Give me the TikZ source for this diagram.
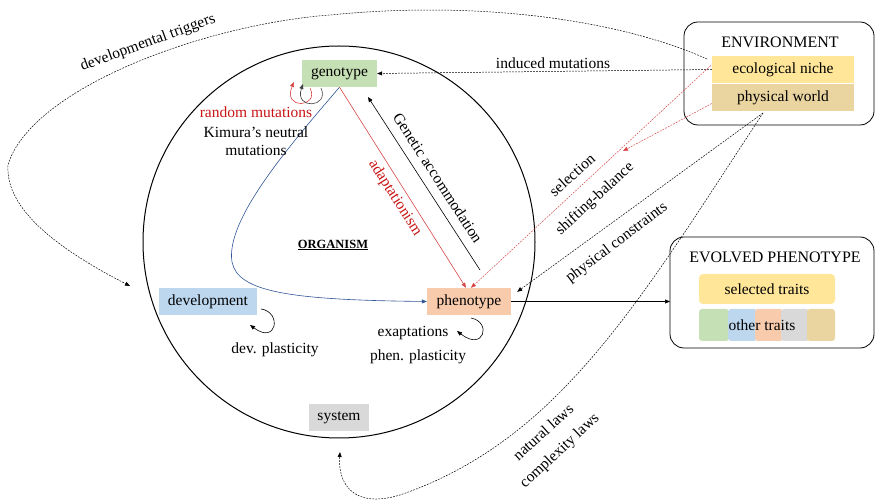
\documentclass[tikz,border=0pt]{standalone}
\usepackage{fontspec}
\setmainfont{Liberation Serif}
\usetikzlibrary{arrows.meta,calc}
\definecolor{cgreen}{RGB}{197,224,180}
\definecolor{cblue}{RGB}{189,215,238}
\definecolor{corange}{RGB}{248,203,173}
\definecolor{cgray}{RGB}{217,217,217}
\definecolor{cyellow}{RGB}{255,230,153}
\definecolor{ctan}{RGB}{234,212,160}
\definecolor{cred}{RGB}{200,20,20}
\definecolor{lred}{RGB}{215,70,70}
\definecolor{lblue}{RGB}{47,85,151}
\begin{document}
\begin{tikzpicture}[x=1pt,y=-1pt,
  font=\fontsize{15.5}{18}\selectfont,
  box/.style={inner sep=0pt, minimum height=27pt},
  tip/.style={-{Triangle[length=5pt,width=4pt]}},
  dsh/.style={dash pattern=on 1.8pt off 1.2pt, line width=0.5pt},
  thin line/.style={line width=0.6pt},
  frame/.style={draw, rounded corners=14pt, line width=0.8pt},
  tile/.style={inner sep=0pt, rounded corners=3pt}]
\useasboundingbox (0,0) rectangle (876,502);

% organism circle
\node[circle, draw, line width=1pt, minimum size=392pt, inner sep=0pt] (org) at (339,242) {};

% boxes
\node[box, fill=cgreen, minimum width=75pt] (geno) at (339.5,73.5) {genotype};
\node[box, fill=cblue, minimum width=98pt] (dev) at (208,301.5) {development};
\node[box, fill=corange, minimum width=84pt] (pheno) at (469,301.5) {phenotype};
\node[box, fill=cgray, minimum width=60pt] (sys) at (339,417.5) {system};
\node (orglab) at (333,245) {\fontsize{12.5}{14}\selectfont\underline{\textbf{ORGANISM}}};

% environment
\draw[frame] (684,22) rectangle (874,125);
\node (envtitle) at (780,42) {\fontsize{16}{18}\selectfont ENVIRONMENT};
\node[box, fill=cyellow, minimum width=142pt] (eco) at (783,69.5) {ecological niche};
\node[box, fill=ctan, minimum width=142pt] (phys) at (783,97.5) {physical world};

% evolved phenotype
\draw[frame] (670,237) rectangle (874,348);
\node (evtitle) at (775,257) {\fontsize{16}{18}\selectfont EVOLVED PHENOTYPE};
\fill[cyellow, rounded corners=4pt] (699,274) rectangle (835,304);
\node (seltr) at (767,289) {selected traits};
\fill[cgreen, tile] (699,309) rectangle (729,341);
\fill[cblue, tile] (728,309) rectangle (757,341);
\fill[corange, tile] (755,309) rectangle (783,341);
\fill[cgray, tile] (781,309) rectangle (809,341);
\fill[ctan, tile] (807,309) rectangle (835,341);
\node (othtr) at (762,325) {other traits};

% coordinates
\coordinate (gaA) at (480,270);
\coordinate (gaB) at (368,97);
\coordinate (sbEnd) at (623,151);
\coordinate (physP) at (763,113);
\coordinate (dtStart) at (707,59);
\coordinate (dtEnd) at (130,286);
\coordinate (sysEnd) at (340,452);

% blue development path
\draw[thin line, lblue, tip] (geno.south) .. controls (290,145) and (225,220) .. (232,262)
   .. controls (238,292) and (290,300) .. (pheno.west);
% adaptationism
\draw[thin line, lred, -{Triangle[length=5pt,width=4pt]}] (geno.south) -- ($(pheno.north)+(-3,0)$);
\node[rotate=-57.5, text=cred] (adlab) at (395,198) {adaptationism};
% genetic accommodation
\draw[thin line, tip] (gaA) -- (gaB);
\node[rotate=-57] (galab) at (438,178) {Genetic accommodation};

% self loops on genotype
\draw[thin line, lred, tip] (310,88) .. controls (320,108) and (282,110) .. (294,82);
\draw[thin line, black!75, tip] (321,88) .. controls (330,108) and (294,110) .. (303,84);
\node[text=cred] (rmlab) at (256,112) {random mutations};
\node (kimlab) at (256,132) {Kimura’s neutral};
\node (mutlab) at (256,150) {mutations};

% development self loop
\draw[thin line, tip] (261,309) .. controls (282,312) and (277,345) .. (250,325);
\node (devpl) at (275,350) {dev. plasticity};
% phenotype self loop
\draw[thin line, tip] (471,318) .. controls (492,322) and (484,352) .. (457,331);
\node (exap) at (413,333) {exaptations};
\node (phenpl) at (418,357) {phen. plasticity};

% phenotype -> evolved phenotype
\draw[thin line, tip] (pheno.east) -- (670,301.5);

% induced mutations
\draw[dsh, tip] (eco.west) -- (geno.east);
\node (indlab) at (553,63) {induced mutations};

% selection and shifting-balance
\draw[dsh, lred, -{Triangle[length=5pt,width=4pt]}] ($(eco.west)+(-1,-4)$) -- ($(pheno.north)+(2,0)$);
\draw[dsh, lred, -{Triangle[length=5pt,width=4pt]}] ($(phys.west)+(0,6)$) -- (sbEnd);
\node[rotate=41.5] (sellab) at (572,175) {selection};
\node[rotate=42.5] (sblab) at (595,199) {shifting-balance};

% physical constraints
\draw[dsh, tip] (physP) -- ($(pheno.north east)+(6,4)$);
\node[rotate=37] (pclab) at (617,243) {physical constraints};

% natural laws / complexity laws
\draw[dsh, tip] (physP) .. controls (640,300) and (560,440) .. (400,495)
   .. controls (350,510) and (338,480) .. (sysEnd);
\node[rotate=42] (nllab) at (543,432) {natural laws};
\node[rotate=43] (cllab) at (560,451) {complexity laws};

% developmental triggers
\draw[dsh, tip] (dtStart) .. controls (620,20) and (480,0) .. (330,15)
   .. controls (200,25) and (30,90) .. (8,165)
   .. controls (5,210) and (60,250) .. (dtEnd);
\node[rotate=20] (dtlab) at (148,43) {developmental triggers};
\end{tikzpicture}
\end{document}
